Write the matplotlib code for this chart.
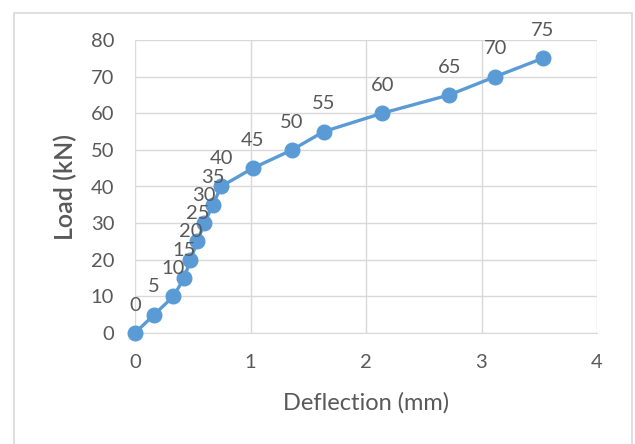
import matplotlib

matplotlib.use("Agg")
import matplotlib.pyplot as plt
from matplotlib.patches import Rectangle

plt.rcParams["font.family"] = ["Lato", "DejaVu Sans"]

deflection = [0, 0.165, 0.333, 0.425, 0.48, 0.54, 0.60, 0.675, 0.745,
              1.02, 1.36, 1.635, 2.14, 2.72, 3.12, 3.53]
load = [0, 5, 10, 15, 20, 25, 30, 35, 40, 45, 50, 55, 60, 65, 70, 75]
x_ticks = [0, 1, 2, 3, 4]
y_ticks = [0, 10, 20, 30, 40, 50, 60, 70, 80]

text_grey = "#595959"
blue = "#5B9BD5"

fig = plt.figure(figsize=(6.35, 4.44), dpi=100)
ax = fig.add_axes([135 / 635, 1 - 333 / 444, (597 - 135) / 635, (333 - 40) / 444])

# chart area border (cropped at the bottom in the reference)
fig.patches.append(Rectangle((14 / 635, -0.05), (632 - 14) / 635, 1.05 - 13 / 444,
                             transform=fig.transFigure, fill=False,
                             edgecolor="#D9D9D9", linewidth=1.2))

ax.plot(deflection, load, color=blue, linewidth=2.4, marker="o",
        markersize=10.5, clip_on=False, zorder=3)
for x, y in zip(deflection, load):
    ax.annotate(str(y), (x, y), xytext=(0, 20), textcoords="offset points",
                ha="center", va="center", fontsize=14.5, color=text_grey)

ax.set_xlim(0, 4)
ax.set_ylim(0, 80)
ax.set_xticks(x_ticks)
ax.set_yticks(y_ticks)
ax.grid(True, color="#D9D9D9", linewidth=1)
ax.set_axisbelow(True)
for side in ["top", "right", "left"]:
    ax.spines[side].set_visible(False)
ax.spines["bottom"].set_color("#D9D9D9")
ax.tick_params(length=0, labelsize=14.5, colors=text_grey)
ax.tick_params(axis="x", pad=15)
ax.tick_params(axis="y", pad=15)

ax.set_xlabel("Deflection (mm)", fontsize=17, color=text_grey)
ax.set_ylabel("Load (kN)", fontsize=18, color=text_grey, fontweight="semibold")
ax.xaxis.set_label_coords(0.5, 1 - (403 - 40) / (333 - 40), transform=ax.transAxes)
ax.yaxis.set_label_coords((65 - 135) / (597 - 135), 0.5, transform=ax.transAxes)
ax.xaxis.label.set_va("center")
ax.yaxis.label.set_va("center")

fig.savefig("out.png", dpi=100)
